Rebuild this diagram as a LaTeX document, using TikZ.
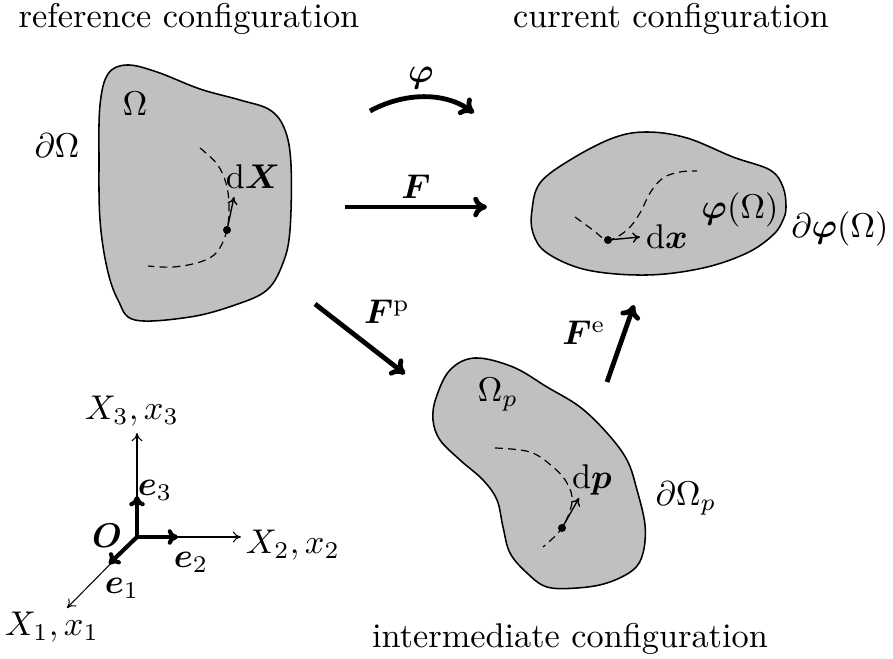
\documentclass[tikz,border=0pt]{standalone}
\usepackage{amsmath,bm}
\usetikzlibrary{arrows.meta}
\definecolor{bodygray}{RGB}{192,192,192}
\begin{document}
\begin{tikzpicture}[x=0.2915pt,y=-0.2915pt,
  body/.style={draw=black,line width=0.45pt,fill=bodygray},
  fiber/.style={line width=0.35pt,dash pattern=on 2.3pt off 1.5pt},
  tangent/.style={line width=0.4pt,-{To[length=2.2pt,width=3pt]}},
  bigarrow/.style={line width=1.4pt,-{To[length=4pt,width=6pt]}},
  axisline/.style={line width=0.3pt,-{To[length=2.4pt,width=3.2pt]}},
  basevec/.style={line width=1.2pt,-{To[length=3pt,width=4.5pt]}},
  title/.style={anchor=base,inner sep=0pt},
  lbl/.style={inner sep=0pt}]
\useasboundingbox (0,0) rectangle (893,659);

% titles
\node[title] (tref) at (189,28) {reference configuration};
\node[title] (tcur) at (671,28) {current configuration};
\node[title] (tint) at (570,648) {intermediate configuration};

% reference body
\path[body] plot[smooth cycle,tension=0.6] coordinates {
 (100,105) (108,74) (127,65) (157,72) (200,89) (240,100) (270,110) (285,130)
 (291,165) (290,230) (283,263) (267,290) (235,305) (190,317) (135,320)
 (118,300) (107,268) (100,220) (99,160)};
\draw[fiber] plot[smooth,tension=0.6] coordinates {
 (200,148) (217,164) (226,183) (229,205) (227,230) (217,252) (200,262) (173,267) (148,266)};
\coordinate (dotA) at (227,230);
\coordinate (tipA) at (234,197);
\fill (dotA) circle (4);
\draw[tangent] (dotA) -- (tipA);
\node[lbl] (lOmega) at (135,104) {$\Omega$};
\node[lbl] (ldX) at (253,177) {$\mathrm{d}\bm{X}$};
\node[lbl] (lbOmega) at (57,146) {$\partial\Omega$};

% current body
\path[body] plot[smooth cycle,tension=0.6] coordinates {
 (532,210) (540,183) (570,160) (613,138) (647,132) (687,138) (733,157) (770,170)
 (783,187) (786,207) (783,220) (773,235) (747,253) (703,268) (647,275)
 (587,270) (547,253) (533,233)};
\draw[fiber] plot[smooth,tension=0.6] coordinates {
 (575,217) (593,230) (608,240) (627,230) (640,213) (650,193) (663,178) (680,172) (697,171)};
\coordinate (dotB) at (608,240);
\coordinate (tipB) at (640,237);
\fill (dotB) circle (4);
\draw[tangent] (dotB) -- (tipB);
\node[lbl] (ldx) at (667,237) {$\mathrm{d}\bm{x}$};
\node[lbl] (lphiO) at (740,210) {$\bm{\varphi}(\Omega)$};
\node[lbl] (lbphiO) at (840,229) {$\partial\bm{\varphi}(\Omega)$};

% intermediate body
\path[body] plot[smooth cycle,tension=0.6] coordinates {
 (475,358) (513,367) (547,387) (580,407) (607,433) (627,460) (637,490)
 (645,525) (643,553) (633,570) (607,583) (577,588) (547,587) (527,573)
 (510,553) (503,527) (497,500) (483,480) (460,460) (440,440) (433,420)
 (436,398) (450,370)};
\draw[fiber] plot[smooth,tension=0.6] coordinates {
 (495,448) (530,452) (553,467) (567,483) (572,502) (562,528) (543,547)};
\coordinate (dotC) at (562,528);
\coordinate (tipC) at (579,498);
\fill (dotC) circle (4);
\draw[tangent] (dotC) -- (tipC);
\node[lbl] (ldp) at (592,480) {$\mathrm{d}\bm{p}$};
\node[lbl] (lOmegap) at (498,395) {$\Omega_p$};
\node[lbl] (lbOmegap) at (686,498) {$\partial\Omega_p$};

% mappings
\coordinate (phiS) at (370,111);
\coordinate (phiE) at (474,113);
\draw[bigarrow] (phiS) .. controls (405,92) and (445,92) .. (phiE);
\node[lbl] (lphi) at (421,78) {$\bm{\varphi}$};

\coordinate (FS) at (345,207);
\coordinate (FE) at (487,207);
\draw[bigarrow] (FS) -- (FE);
\node[lbl] (lF) at (416,187) {$\bm{F}$};

\coordinate (FpS) at (315,304);
\coordinate (FpE) at (405,374);
\draw[bigarrow] (FpS) -- (FpE);
\node[lbl] (lFp) at (387,312) {$\bm{F}^{\mathrm{p}}$};

\coordinate (FeS) at (607,382);
\coordinate (FeE) at (634,305);
\draw[bigarrow] (FeS) -- (FeE);
\node[lbl] (lFe) at (584,333) {$\bm{F}^{\mathrm{e}}$};

% axes
\coordinate (O) at (137,537);
\coordinate (X3) at (137,433);
\coordinate (X2) at (241,537);
\coordinate (X1) at (67,608);
\coordinate (E3) at (137,496);
\coordinate (E2) at (178,537);
\coordinate (E1) at (109,564);
\draw[axisline] (O) -- (X3);
\draw[axisline] (O) -- (X2);
\draw[axisline] (O) -- (X1);
\draw[basevec] (O) -- (E3);
\draw[basevec] (O) -- (E2);
\draw[basevec] (O) -- (E1);
\node[lbl] (lX3) at (132,411) {$X_3,x_3$};
\node[lbl] (lX2) at (293,545) {$X_2,x_2$};
\node[lbl] (lX1) at (52,627) {$X_1,x_1$};
\node[lbl] (le3) at (155,490) {$\bm{e}_3$};
\node[lbl] (le2) at (191,562) {$\bm{e}_2$};
\node[lbl] (le1) at (122,588) {$\bm{e}_1$};
\node[lbl] (lO) at (107,536) {$\bm{O}$};
\end{tikzpicture}
\end{document}
